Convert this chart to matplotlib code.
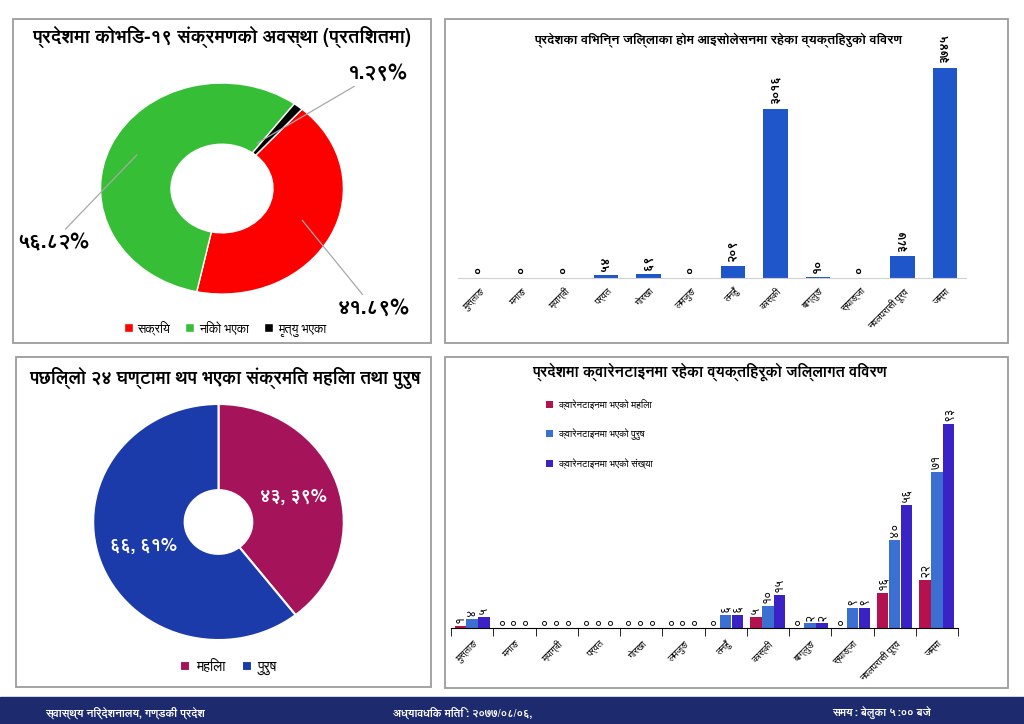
import matplotlib
matplotlib.use('Agg')
import numpy as np
import matplotlib.pyplot as plt
from matplotlib.patches import Rectangle
from matplotlib import font_manager

# devanagari font, if there is one
deva = None
for f in font_manager.fontManager.ttflist:
    if 'Devanagari' in f.name or f.name in ('Lohit Devanagari', 'Mukta', 'FreeSans', 'Gargi', 'Kalimati'):
        deva = f.name
        break
plt.rcParams['font.family'] = ([deva] if deva else []) + ['DejaVu Sans']

# ---- data ----
status_labels = ['सक्रिय', 'निको भएका', 'मृत्यु भएका']
status_pct = [41.89, 56.82, 1.29]
status_colors = ['#fd0000', '#36bf36', '#000000']

districts = ['मुस्ताङ', 'मनाङ', 'म्याग्दी', 'पर्वत', 'गोरखा', 'लमजुङ', 'तनहुँ',
             'कास्की', 'बाग्लुङ', 'स्याङ्जा', 'नवलपरासी पूर्व', 'जम्मा']
home_iso = [0, 0, 0, 54, 69, 0, 209, 3016, 10, 0, 387, 3745]

q_labels = ['क्वारेनटाइनमा भएको महिला', 'क्वारेनटाइनमा भएको पुरुष', 'क्वारेनटाइनमा भएको संख्या']
q_female = [1, 0, 0, 0, 0, 0, 0, 5, 0, 0, 16, 22]
q_male = [4, 0, 0, 0, 0, 0, 6, 10, 2, 9, 40, 71]
q_total = [5, 0, 0, 0, 0, 0, 6, 15, 2, 9, 56, 93]
q_colors = ['#b3124f', '#3b6fd2', '#3a22c4']

sex_labels = ['महिला', 'पुरुष']
sex_counts = [43, 66]
sex_colors = ['#a5135a', '#1b3baa']

footer = ['स्वास्थ्य निर्देशनालय, गण्डकी प्रदेश', 'अध्यावधिक मिति : २०७७/०८/०६,', 'समय: बेलुका ५:०० बजे']

DEV = str.maketrans('0123456789', '०१२३४५६७८९')
def dev(s):
    return str(s).translate(DEV)

W, H = 1024, 724
def box(x0, y0, x1, y1):
    # pixel box (from top left) -> figure rect
    return [x0 / W, 1 - y1 / H, (x1 - x0) / W, (y1 - y0) / H]

fig = plt.figure(figsize=(10.24, 7.24), dpi=100)
fig.patch.set_facecolor('white')

for b in [(13, 19, 431, 343), (445, 19, 1008, 343), (16, 357, 431, 687), (445, 357, 1008, 688)]:
    fig.patches.append(Rectangle((b[0] / W, 1 - b[3] / H), (b[2] - b[0]) / W, (b[3] - b[1]) / H,
                                 transform=fig.transFigure, fill=False, ec='#9c9c9c', lw=1.3))

# ---- top left donut ----
ax1 = fig.add_axes(box(13, 19, 431, 343))
wedges, _ = ax1.pie(status_pct, colors=status_colors,
                    startangle=48.8, counterclock=False,
                    wedgeprops=dict(width=0.58, edgecolor='white', linewidth=1))
ax1.set_aspect('auto')
ax1.set_xlim(-1.721, 1.721)
ax1.set_ylim(-1.464, 1.607)
lp = dict(arrowstyle='-', color='#a8a8a8', lw=0.9, shrinkA=0, shrinkB=0)
ax1.annotate(dev('%.2f%%' % status_pct[0]), xy=(0.66, -0.30), xytext=(0.95, -1.13),
             ha='left', va='center', fontsize=15, fontweight='bold', arrowprops=lp)
ax1.annotate(dev('%.2f%%' % status_pct[2]), xy=(0.29, 0.43), xytext=(1.03, 1.095),
             ha='left', va='center', fontsize=15, fontweight='bold', arrowprops=lp)
ax1.annotate(dev('%.2f%%' % status_pct[1]), xy=(-0.70, 0.32), xytext=(-1.69, -0.51),
             ha='left', va='center', fontsize=15, fontweight='bold', arrowprops=lp)
ax1.legend(wedges, status_labels, loc='center', bbox_to_anchor=(0.507, 0.046), ncol=3,
           frameon=False, fontsize=9, handlelength=0.7, handleheight=0.7,
           handletextpad=0.4, columnspacing=1.2)
fig.text(222 / W, 1 - 37 / H, 'प्रदेशमा कोभिड-१९ संक्रमणको अवस्था (प्रतिशतमा)',
         ha='center', va='center', fontsize=13.5, fontweight='bold')

# ---- top right bars ----
ax2 = fig.add_axes(box(458, 50, 966, 277.7))
x = np.arange(len(districts))
ax2.bar(x, home_iso, width=0.57, color='#1f56c9')
for i, v in enumerate(home_iso):
    ax2.annotate(dev(v), (i, v), xytext=(0, 3), textcoords='offset points', rotation=90,
                 ha='center', va='bottom', fontsize=9, fontweight='bold')
ax2.set_xlim(-0.5, len(districts) - 0.5)
ax2.set_ylim(0, 4060)
for s in ['top', 'right', 'left']:
    ax2.spines[s].set_visible(False)
ax2.spines['bottom'].set_color('#d0d0d0')
ax2.set_yticks([])
ax2.set_xticks(x)
ax2.set_xticklabels(districts, rotation=45, ha='right', rotation_mode='anchor', fontsize=7)
ax2.tick_params(axis='x', length=0, pad=6)
fig.text(718 / W, 1 - 40 / H, 'प्रदेशका विभिन्न जिल्लाका होम आइसोलेसनमा रहेका व्यक्तिहरुको विवरण',
         ha='center', va='center', fontsize=9.5, fontweight='bold')

# ---- bottom left pie ----
ax3 = fig.add_axes(box(16, 357, 431, 687))
tot = sum(sex_counts)
w3, _, auto = ax3.pie(sex_counts, colors=sex_colors, startangle=90, counterclock=False,
                      autopct=lambda p: dev('%d, %d%%' % (round(p * tot / 100), round(p))),
                      pctdistance=0.63,
                      wedgeprops=dict(width=0.73, edgecolor='white', linewidth=1.5),
                      textprops=dict(color='white', fontsize=13, fontweight='bold'))
ax3.set_aspect('auto')
ax3.set_xlim(-1.616, 1.696)
ax3.set_ylim(-1.398, 1.398)
ax3.legend(w3, sex_labels, loc='center', bbox_to_anchor=(0.512, 0.06), ncol=2,
           frameon=False, fontsize=10, handlelength=0.7, handleheight=0.7,
           handletextpad=0.4, columnspacing=1.2)
fig.text(225 / W, 1 - 378 / H, 'पछिल्लो २४ घण्टामा थप भएका संक्रमित महिला तथा पुरुष',
         ha='center', va='center', fontsize=13, fontweight='bold')

# ---- bottom right grouped bars ----
ax4 = fig.add_axes(box(451, 390, 958, 627.7))
bw = 0.27
for k, (vals, c) in enumerate(zip([q_female, q_male, q_total], q_colors)):
    pos = x + (k - 1) * 0.28
    ax4.bar(pos, vals, width=bw, color=c, label=q_labels[k])
    for p, v in zip(pos, vals):
        ax4.annotate(dev(v), (p, v), xytext=(0, 2), textcoords='offset points', rotation=90,
                     ha='center', va='bottom', fontsize=9)
ax4.set_xlim(-0.5, len(districts) - 0.5)
ax4.set_ylim(0, 108.5)
for s in ['top', 'right', 'left']:
    ax4.spines[s].set_visible(False)
ax4.set_yticks([])
ax4.set_xticks(x)
ax4.set_xticklabels(districts, rotation=45, ha='right', rotation_mode='anchor', fontsize=7)
ax4.set_xticks(np.arange(-0.5, len(districts)), minor=True)
ax4.tick_params(axis='x', which='major', length=0, pad=8)
ax4.tick_params(axis='x', which='minor', length=6)
ax4.legend(loc='upper left', bbox_to_anchor=(0.17, 1.0), frameon=False, fontsize=7,
           labelspacing=1.9, handlelength=0.7, handleheight=0.7, handletextpad=0.6)
fig.text(710 / W, 1 - 372 / H, 'प्रदेशमा क्वारेनटाइनमा रहेका व्यक्तिहरूको जिल्लागत विवरण',
         ha='center', va='center', fontsize=11, fontweight='bold')

# ---- footer ----
fig.patches.append(Rectangle((0, 0), 1, 27 / H, transform=fig.transFigure, color='#1d2a6e'))
fig.text(45 / W, 1 - 713 / H, footer[0], color='white', fontsize=8, fontweight='bold', va='center')
fig.text(393 / W, 1 - 713 / H, footer[1], color='white', fontsize=8, fontweight='bold', va='center')
fig.text(832 / W, 1 - 713 / H, footer[2], color='white', fontsize=8, fontweight='bold', va='center')

fig.savefig('out.png', dpi=100)
